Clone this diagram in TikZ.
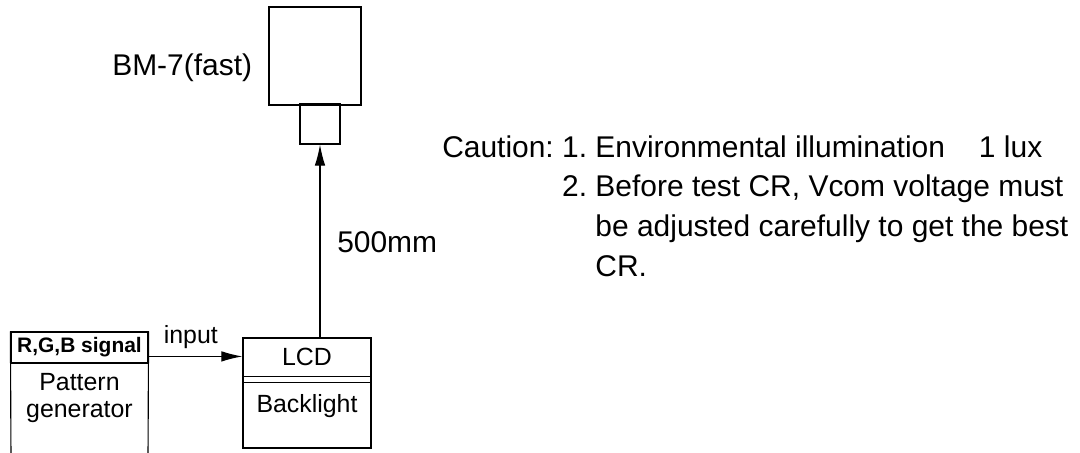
\documentclass[tikz,border=0pt]{standalone}
\usepackage{fontspec}
\setmainfont{Liberation Sans}
\usetikzlibrary{arrows.meta}
\begin{document}
\begin{tikzpicture}[x=0.025cm,y=-0.025cm,
    box/.style={draw,line width=0.8pt,inner sep=0pt},
    arr/.style={line width=0.8pt,-{Latex[length=15pt,width=7.5pt]}},
    lbl/.style={font=\fontsize{21.3}{28.3}\selectfont,inner sep=0pt},
    txt/.style={font=\fontsize{17.7}{18.8}\selectfont,inner sep=0pt}]
  \useasboundingbox (0,0) rectangle (1080,453);
  % luminance meter
  \node[box,minimum width=2.3cm,minimum height=2.45cm] (cam) at (315,56) {};
  \node[box,minimum width=1cm,minimum height=1cm] (lens) at (320,124) {};
  \node[lbl,anchor=base west] (camname) at (112,76) {BM-7(fast)};
  % panel under test
  \node[box,minimum width=3.2cm,minimum height=2.75cm] (lcd) at (307,393) {};
  \draw[line width=0.8pt] ([yshift=-0.975cm]lcd.north west) -- ([yshift=-0.975cm]lcd.north east);
  \draw[line width=0.8pt] ([yshift=-1.125cm]lcd.north west) -- ([yshift=-1.125cm]lcd.north east);
  \node[txt,anchor=base] (lcdtxt) at (307,365) {LCD};
  \node[txt,anchor=base] (bl) at (307,412) {Backlight};
  % signal source, open at the bottom
  \coordinate (pgbl) at (11,460);
  \coordinate (pgbr) at (148,460);
  \node[box,minimum width=3.425cm,minimum height=0.775cm,
        font=\bfseries\fontsize{14.9}{18}\selectfont] (sig) at (79.5,347.5) {R,G,B signal};
  \draw[line width=0.8pt] (sig.north west) -- (pgbl);
  \draw[line width=0.8pt] (sig.north east) -- (pgbr);
  \node[txt,align=center] (pg) at (79.5,398) {Pattern\\generator};
  % connections
  \draw[arr] (sig.east |- lcdtxt) -- (lcd.west |- lcdtxt)
    node[txt,above=5pt,pos=0.45] (inp) {input};
  \draw[arr] (lens.south |- lcd.north) -- (lens.south);
  \node[lbl,anchor=base west] (dist) at (337,252) {500mm};
  % notes
  \node[lbl,anchor=base west] (note) at (442,157)
    {\begin{tabular}[t]{@{}l@{\hspace{0.278em}}l@{\hspace{0.278em}}l@{}}
      Caution: & 1. & Environmental illumination \hspace{0.58em} 1 lux\\
               & 2. & Before test CR, Vcom voltage must\\
               &    & be adjusted carefully to get the best\\
               &    & CR.
     \end{tabular}};
\end{tikzpicture}
\end{document}
